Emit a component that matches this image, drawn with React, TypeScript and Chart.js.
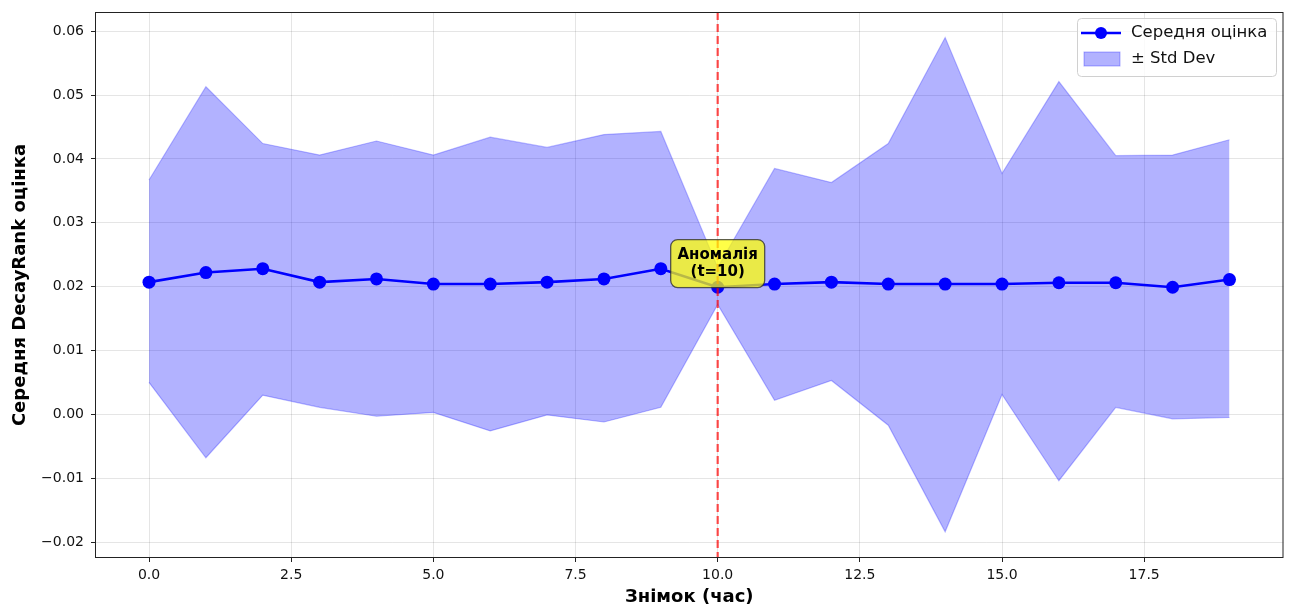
import React, { useEffect, useRef } from "react";
import { Chart, registerables } from "chart.js";

Chart.register(...registerables);

const snapshots = [0, 1, 2, 3, 4, 5, 6, 7, 8, 9, 10, 11, 12, 13, 14, 15, 16, 17, 18, 19];
const meanValues = [0.0207, 0.0222, 0.0228, 0.0207, 0.0212, 0.0204, 0.0204, 0.0207, 0.0212, 0.0228, 0.0199, 0.0204, 0.0207, 0.0204, 0.0204, 0.0204, 0.0206, 0.0206, 0.0199, 0.0211];
const upperValues = [0.0367, 0.0513, 0.0424, 0.0406, 0.0428, 0.0406, 0.0434, 0.0418, 0.0438, 0.0443, 0.0230, 0.0385, 0.0363, 0.0424, 0.0590, 0.0377, 0.0521, 0.0405, 0.0406, 0.0430];
const lowerValues = [0.0050, -0.0068, 0.0030, 0.0011, -0.0003, 0.0003, -0.0026, -0.0001, -0.0012, 0.0011, 0.0172, 0.0022, 0.0053, -0.0017, -0.0184, 0.0031, -0.0104, 0.0011, -0.0007, -0.0005];
const xTickValues = [0, 2.5, 5, 7.5, 10, 12.5, 15, 17.5];
const yTickValues = [-0.02, -0.01, 0, 0.01, 0.02, 0.03, 0.04, 0.05, 0.06];
const anomalyT = 10;
const anomalyLabel = ["Аномалія", "(t=10)"];
const anomalyLabelY = 0.0236;
const meanLabel = "Середня оцінка";
const bandLabel = "± Std Dev";
const xTitle = "Знімок (час)";
const yTitle = "Середня DecayRank оцінка";

const FONT = "'DejaVu Sans', sans-serif";

const overlayPlugin = {
  id: "overlay",
  afterDatasetsDraw(chart: any) {
    const { ctx, chartArea, scales } = chart;
    const x = scales.x;
    const y = scales.y;
    const px = x.getPixelForValue(anomalyT);
    ctx.save();
    ctx.beginPath();
    ctx.rect(chartArea.left, chartArea.top, chartArea.right - chartArea.left, chartArea.bottom - chartArea.top);
    ctx.clip();
    ctx.strokeStyle = "rgba(255,0,0,0.7)";
    ctx.lineWidth = 2.2;
    ctx.setLineDash([8, 4]);
    ctx.beginPath();
    ctx.moveTo(px, chartArea.top);
    ctx.lineTo(px, chartArea.bottom);
    ctx.stroke();
    ctx.setLineDash([]);

    // annotation box
    const cy = y.getPixelForValue(anomalyLabelY);
    const w = 94;
    const h = 48;
    ctx.beginPath();
    (ctx as any).roundRect(px - w / 2, cy - h / 2, w, h, 7);
    ctx.fillStyle = "rgba(255,255,0,0.72)";
    ctx.fill();
    ctx.strokeStyle = "rgba(40,40,40,0.75)";
    ctx.lineWidth = 1.3;
    ctx.stroke();
    ctx.fillStyle = "#000";
    ctx.font = `bold 15px ${FONT}`;
    ctx.textAlign = "center";
    ctx.textBaseline = "middle";
    ctx.fillText(anomalyLabel[0], px, cy - 8);
    ctx.fillText(anomalyLabel[1], px, cy + 9);
    ctx.restore();
  },
  afterDraw(chart: any) {
    const { ctx, chartArea } = chart;
    ctx.save();
    // frame
    ctx.strokeStyle = "#222";
    ctx.lineWidth = 1;
    ctx.strokeRect(chartArea.left + 0.5, chartArea.top + 0.5, chartArea.right - chartArea.left - 1, chartArea.bottom - chartArea.top - 1);

    // axis titles
    ctx.fillStyle = "#000";
    ctx.font = `bold 18px ${FONT}`;
    ctx.textAlign = "center";
    ctx.textBaseline = "middle";
    ctx.fillText(xTitle, (chartArea.left + chartArea.right) / 2, 597);
    ctx.save();
    ctx.translate(20, (chartArea.top + chartArea.bottom) / 2);
    ctx.rotate(-Math.PI / 2);
    ctx.fillText(yTitle, 0, 0);
    ctx.restore();

    // legend
    const lx = 1077;
    const ly = 18;
    const lw = 199;
    const lh = 58;
    ctx.beginPath();
    (ctx as any).roundRect(lx + 0.5, ly + 0.5, lw, lh, 4);
    ctx.fillStyle = "rgba(255,255,255,0.8)";
    ctx.fill();
    ctx.strokeStyle = "#d0d0d0";
    ctx.lineWidth = 1;
    ctx.stroke();

    ctx.strokeStyle = "#0000ff";
    ctx.lineWidth = 2.5;
    ctx.beginPath();
    ctx.moveTo(lx + 4, ly + 15);
    ctx.lineTo(lx + 44, ly + 15);
    ctx.stroke();
    ctx.fillStyle = "#0000ff";
    ctx.beginPath();
    ctx.arc(lx + 24, ly + 15, 6, 0, Math.PI * 2);
    ctx.fill();

    ctx.fillStyle = "rgba(0,0,255,0.3)";
    ctx.fillRect(lx + 7, ly + 34, 36, 14);
    ctx.strokeStyle = "rgba(0,0,255,0.3)";
    ctx.lineWidth = 1;
    ctx.strokeRect(lx + 7, ly + 34, 36, 14);

    ctx.fillStyle = "#111";
    ctx.font = `16.5px ${FONT}`;
    ctx.textAlign = "left";
    ctx.textBaseline = "middle";
    ctx.fillText(meanLabel, lx + 54, ly + 15);
    ctx.fillText(bandLabel, lx + 54, ly + 41);
    ctx.restore();
  },
};

export default function App() {
  const canvasRef = useRef<HTMLCanvasElement | null>(null);

  useEffect(() => {
    const canvas = canvasRef.current;
    if (!canvas) return;
    const upper = snapshots.map((t, i) => ({ x: t, y: upperValues[i] }));
    const lower = snapshots.map((t, i) => ({ x: t, y: lowerValues[i] }));
    const mean = snapshots.map((t, i) => ({ x: t, y: meanValues[i] }));

    const chart = new Chart(canvas, {
      type: "line",
      data: {
        datasets: [
          {
            label: meanLabel,
            data: mean,
            borderColor: "#0000ff",
            backgroundColor: "#0000ff",
            borderWidth: 2.6,
            pointRadius: 6.5,
            pointBackgroundColor: "#0000ff",
            pointBorderColor: "#0000ff",
            pointBorderWidth: 0,
            fill: false,
            order: 0,
          } as any,
          {
            label: bandLabel,
            data: upper,
            borderColor: "rgba(60,60,255,0.35)",
            borderWidth: 1.2,
            backgroundColor: "rgba(0,0,255,0.3)",
            pointRadius: 0,
            fill: "+1",
            order: 1,
          },
          {
            label: "lower",
            data: lower,
            borderColor: "rgba(60,60,255,0.35)",
            borderWidth: 1.2,
            pointRadius: 0,
            fill: false,
            order: 2,
          },
        ],
      },
      options: {
        animation: false,
        responsive: false,
        devicePixelRatio: 1,
        layout: { padding: { top: 12, right: 6, left: 0, bottom: 0 } },
        plugins: {
          legend: { display: false },
          tooltip: { enabled: false },
          title: { display: false },
        },
        scales: {
          x: {
            type: "linear",
            min: -0.95,
            max: 19.95,
            afterBuildTicks: (scale: any) => {
              scale.ticks = xTickValues.map((v) => ({ value: v }));
            },
            afterFit: (scale: any) => {
              scale.height = 52;
              scale.paddingLeft = 0;
              scale.paddingRight = 0;
            },
            ticks: {
              callback: (v: any) => Number(v).toFixed(1),
              font: { family: FONT, size: 14 },
              color: "#111",
              padding: 5,
              maxRotation: 0,
              autoSkip: false,
            },
            grid: {
              color: "rgba(0,0,0,0.1)",
              lineWidth: 1,
              tickLength: 4,
              tickColor: "#222",
            },
            border: { display: false },
          },
          y: {
            type: "linear",
            min: -0.0225,
            max: 0.063,
            afterBuildTicks: (scale: any) => {
              scale.ticks = yTickValues.map((v) => ({ value: v }));
            },
            afterFit: (scale: any) => {
              scale.width = 95;
              scale.paddingTop = 0;
              scale.paddingBottom = 0;
            },
            ticks: {
              callback: (v: any) => {
                const n = Number(v);
                const s = Math.abs(n).toFixed(2);
                return n < -1e-9 ? "\u2212" + s : s;
              },
              font: { family: FONT, size: 14 },
              color: "#111",
              padding: 7,
            },
            grid: {
              color: "rgba(0,0,0,0.1)",
              lineWidth: 1,
              tickLength: 4,
              tickColor: "#222",
            },
            border: { display: false },
          },
        },
      },
      plugins: [overlayPlugin],
    } as any);

    return () => chart.destroy();
  }, []);

  return (
    <div style={{ position: "fixed", left: 0, top: 0, width: 1290, height: 610, background: "#fff" }}>
      <canvas ref={canvasRef} width={1290} height={610} style={{ display: "block", width: 1290, height: 610 }} />
    </div>
  );
}
